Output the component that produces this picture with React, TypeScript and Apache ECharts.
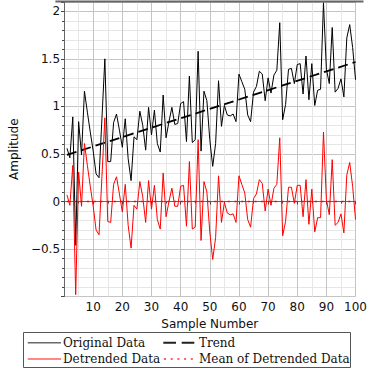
import React, { useEffect, useRef } from "react";
import * as echarts from "echarts";

const sampleNumbers: number[] = Array.from({ length: 100 }, (_, i) => i + 1);

const originalData: number[] = [
  0.56, 0.46, 0.89, -0.46, 0.84, 0.49, 1.16, 0.94, 0.73, 0.53,
  0.29, 0.25, 0.87, 1.50, 0.42, 0.42, 0.83, 0.92, 0.75, 0.57,
  0.87, 0.45, 0.22, 0.68, 0.65, 0.95, 0.80, 0.54, 0.99, 0.70,
  0.96, 0.61, 0.52, 1.12, 0.67, 0.84, 0.99, 0.81, 0.82, 1.03,
  1.05, 0.63, 1.32, 0.62, 0.65, 1.58, 0.53, 1.16, 1.06, 0.65,
  0.37, 0.61, 1.27, 0.79, 1.01, 0.91, 0.90, 0.92, 0.84, 1.34,
  1.26, 1.18, 0.91, 0.84, 1.15, 1.21, 1.37, 1.34, 1.06, 1.30,
  1.14, 1.33, 1.38, 1.88, 0.86, 1.02, 1.39, 1.40, 1.24, 1.44,
  1.45, 1.13, 1.53, 1.07, 1.45, 1.01, 1.17, 1.18, 2.09, 1.39,
  1.24, 1.83, 1.15, 1.19, 1.29, 1.10, 1.72, 1.86, 1.62, 1.28,
];

const detrendedData: number[] = [
  0.07, -0.04, 0.38, -0.98, 0.31, -0.05, 0.61, 0.38, 0.16, -0.05,
  -0.30, -0.35, 0.26, 0.88, -0.21, -0.22, 0.18, 0.26, 0.08, -0.11,
  0.18, -0.25, -0.49, -0.04, -0.08, 0.21, 0.05, -0.22, 0.22, -0.08,
  0.17, -0.19, -0.29, 0.30, -0.16, 0.00, 0.14, -0.05, -0.05, 0.16,
  0.17, -0.26, 0.42, -0.29, -0.27, 0.65, -0.41, 0.21, 0.10, -0.32,
  -0.61, -0.38, 0.27, -0.22, -0.01, -0.12, -0.14, -0.13, -0.22, 0.27,
  0.18, 0.09, -0.19, -0.27, 0.03, 0.08, 0.23, 0.19, -0.10, 0.13,
  -0.04, 0.14, 0.18, 0.67, -0.36, -0.21, 0.15, 0.15, -0.02, 0.17,
  0.17, -0.16, 0.23, -0.24, 0.13, -0.32, -0.17, -0.17, 0.73, 0.02,
  -0.14, 0.44, -0.25, -0.22, -0.13, -0.33, 0.28, 0.41, 0.16, -0.19,
];

const trendLine: number[][] = [[1, 0.49], [100, 1.467]];
const meanLine: number[][] = [[1, 0], [100, 0]];

const legendLabels = ["Original Data", "Trend", "Detrended Data", "Mean of Detrended Data"];

const SANS = "'DejaVu Sans', sans-serif";
const SERIF = "'DejaVu Serif', serif";

export default function App() {
  const ref = useRef<HTMLDivElement>(null);
  useEffect(() => {
    if (!ref.current) return;
    const chart = echarts.init(ref.current, null, { renderer: "svg" });
    const fmtY = (v: number) => {
      const r = Math.round(v * 10) / 10;
      if (Math.abs(r * 2 - Math.round(r * 2)) > 1e-6) return "";
      if (r <= -1 || r > 2.05) return "";
      return r < 0 ? "\u2212" + String(Math.abs(r)) : String(r);
    };
    const row1 = 342.7;
    const row2 = 359;
    chart.setOption({
      animation: false,
      backgroundColor: "#fff",
      grid: { left: 55.4, right: 6.5, top: 1.8, bottom: 73.4, containLabel: false },
      xAxis: {
        type: "value",
        min: 0,
        max: 100,
        interval: 10,
        name: "Sample Number",
        nameLocation: "middle",
        nameGap: 19,
        nameTextStyle: { fontFamily: SANS, fontSize: 12, color: "#111" },
        axisLine: { show: true, lineStyle: { color: "#666", width: 1 } },
        axisTick: { show: true, inside: false, length: 3, lineStyle: { color: "#444" } },
        minorTick: { show: true, splitNumber: 2, length: 2, lineStyle: { color: "#444" } },
        splitLine: { show: true, lineStyle: { color: "#c4c4c4", width: 1 } },
        minorSplitLine: { show: true, lineStyle: { color: "#e6e6e6", width: 1 } },
        axisLabel: {
          fontFamily: SANS,
          fontSize: 12,
          color: "#111",
          margin: 4,
          formatter: (v: number) => (v === 0 ? "" : String(v)),
        },
      },
      yAxis: {
        type: "value",
        min: -1,
        max: 2.1,
        interval: 0.5,
        name: "Amplitude",
        nameLocation: "middle",
        nameGap: 44,
        nameTextStyle: { fontFamily: SANS, fontSize: 12, color: "#111" },
        axisLine: { show: true, lineStyle: { color: "#666", width: 1 } },
        axisTick: { show: true, inside: false, length: 3, lineStyle: { color: "#444" } },
        minorTick: { show: true, splitNumber: 5, length: 2, lineStyle: { color: "#444" } },
        splitLine: { show: true, lineStyle: { color: "#c4c4c4", width: 1 } },
        minorSplitLine: { show: true, lineStyle: { color: "#e6e6e6", width: 1 } },
        axisLabel: {
          fontFamily: SANS,
          fontSize: 12,
          color: "#111",
          margin: 4,
          showMaxLabel: false,
          formatter: fmtY,
        },
      },
      series: [
        {
          name: legendLabels[0],
          type: "line",
          data: sampleNumbers.map((x, i) => [x, originalData[i]]),
          symbol: "none",
          lineStyle: { color: "#000", width: 1 },
          z: 2,
        },
        {
          name: legendLabels[1],
          type: "line",
          data: trendLine,
          symbol: "none",
          lineStyle: { color: "#000", width: 1.8, type: [10, 5] },
          z: 3,
        },
        {
          name: legendLabels[2],
          type: "line",
          data: sampleNumbers.map((x, i) => [x, detrendedData[i]]),
          symbol: "none",
          lineStyle: { color: "#ff0000", width: 1 },
          z: 4,
        },
        {
          name: legendLabels[3],
          type: "line",
          data: meanLine,
          symbol: "none",
          lineStyle: { color: "#ff0000", width: 1.5, type: [2, 4.7] },
          z: 5,
        },
      ],
      graphic: [
        {
          type: "line",
          shape: { x1: 55.4, y1: 1.5, x2: 363.5, y2: 1.5 },
          style: { stroke: "#666", lineWidth: 2 },
          z: 100,
        },
        {
          type: "rect",
          shape: { x: 23.5, y: 332.5, width: 327, height: 35 },
          style: { fill: "#fff", stroke: "#555", lineWidth: 1 },
          z: 100,
        },
        {
          type: "line",
          shape: { x1: 27.7, y1: row1, x2: 61, y2: row1 },
          style: { stroke: "#6a6a6a", lineWidth: 1.5 },
          z: 101,
        },
        {
          type: "text",
          x: 63,
          y: row1,
          style: { text: legendLabels[0], font: `12px ${SERIF}`, fill: "#111", verticalAlign: "middle", align: "left" },
          z: 101,
        },
        {
          type: "line",
          shape: { x1: 163.3, y1: row1, x2: 194.3, y2: row1 },
          style: { stroke: "#222", lineWidth: 2, lineDash: [12.7, 5.7] },
          z: 101,
        },
        {
          type: "text",
          x: 199,
          y: row1,
          style: { text: legendLabels[1], font: `12px ${SERIF}`, fill: "#111", verticalAlign: "middle", align: "left" },
          z: 101,
        },
        {
          type: "line",
          shape: { x1: 27.7, y1: row2, x2: 61, y2: row2 },
          style: { stroke: "#ff6060", lineWidth: 1.5 },
          z: 101,
        },
        {
          type: "text",
          x: 63,
          y: row2,
          style: { text: legendLabels[2], font: `12px ${SERIF}`, fill: "#111", verticalAlign: "middle", align: "left" },
          z: 101,
        },
        {
          type: "line",
          shape: { x1: 164, y1: row2, x2: 194.3, y2: row2 },
          style: { stroke: "#ff3030", lineWidth: 1.5, lineDash: [2, 4.7] },
          z: 101,
        },
        {
          type: "text",
          x: 199,
          y: row2,
          style: { text: legendLabels[3], font: `12px ${SERIF}`, fill: "#111", verticalAlign: "middle", align: "left" },
          z: 101,
        },
      ],
    });
    return () => chart.dispose();
  }, []);
  return <div ref={ref} style={{ width: 370, height: 370, position: "absolute", left: 0, top: 0 }} />;
}
